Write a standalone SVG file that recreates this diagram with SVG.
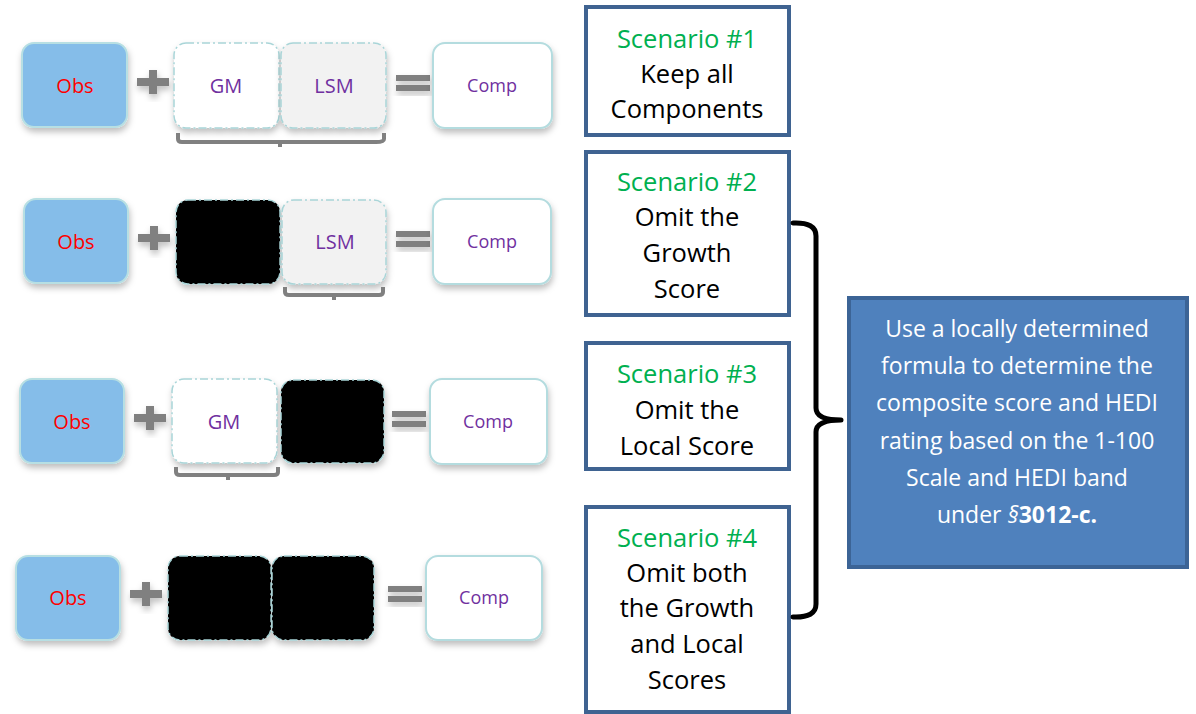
<svg xmlns="http://www.w3.org/2000/svg" width="1196" height="714" viewBox="0 0 1196 714">
<defs>
<filter id="sh" x="-20%" y="-20%" width="140%" height="150%">
<feDropShadow dx="1" dy="4" stdDeviation="3" flood-color="#000" flood-opacity="0.25"/>
</filter>
<style>
.obs{fill:#85bde9;stroke:#b7dfe3;stroke-width:2}
.gm{fill:#ffffff;stroke:#a9d5d8;stroke-width:1.5;stroke-dasharray:8 3 2 3}
.lsm{fill:#f2f2f2;stroke:#a9d5d8;stroke-width:1.5;stroke-dasharray:8 3 2 3}
.blk{fill:#000;stroke:#a9d5d8;stroke-width:1.5;stroke-dasharray:8 3 2 3}
.comp{fill:#fff;stroke:#b4dcdf;stroke-width:2}
.op{fill:#808080}
.br{fill:none;stroke:#808080;stroke-width:4;stroke-linejoin:round}
.t{font-family:"Open Sans","Noto Sans",sans-serif;text-anchor:middle}
.ro{fill:#ff0000;font-size:20px}
.pu{fill:#7030a0;font-size:20px}
.pc{fill:#7030a0;font-size:18px}
.sc{fill:#fff;stroke:#3f6391;stroke-width:4}
.st{font-family:"Open Sans","Noto Sans",sans-serif;text-anchor:middle;font-size:25.5px;fill:#000}
.g{fill:#00b050}
.bt{font-family:"Open Sans","Noto Sans",sans-serif;text-anchor:middle;font-size:23px;fill:#fff}
</style>
</defs>

<!-- Row 1 -->
<g id="row1">
<rect class="obs" x="22" y="43" width="105" height="84" rx="12" filter="url(#sh)"/>
<text class="t ro" x="75" y="93">Obs</text>
<g filter="url(#sh)"><rect class="op" x="137" y="78" width="32" height="8"/><rect class="op" x="149" y="70" width="8" height="24"/></g>
<rect class="gm" x="174" y="43" width="105" height="85" rx="12" filter="url(#sh)"/>
<text class="t pu" x="226" y="93">GM</text>
<rect class="lsm" x="281" y="43" width="105" height="85" rx="12" filter="url(#sh)"/>
<text class="t pu" x="334" y="93">LSM</text>
<g filter="url(#sh)"><rect class="op" x="396" y="75" width="34" height="6"/><rect class="op" x="396" y="85" width="34" height="6"/></g>
<rect class="comp" x="433" y="43" width="119" height="85" rx="12" filter="url(#sh)"/>
<text class="t pc" x="492" y="92">Comp</text>
<path class="br" d="M178,133 L178,139 Q178,142 182,142 L376,142 Q384,142 384,139 L384,133 M280,142 L280,147"/>
</g>

<!-- Row 2 -->
<g id="row2">
<rect class="obs" x="24" y="199" width="104" height="84" rx="12" filter="url(#sh)"/>
<text class="t ro" x="76" y="249">Obs</text>
<g filter="url(#sh)"><rect class="op" x="138" y="234" width="32" height="8"/><rect class="op" x="150" y="226" width="8" height="24"/></g>
<rect class="blk" x="176" y="200" width="104" height="84" rx="12" filter="url(#sh)"/>
<rect class="lsm" x="282" y="200" width="104" height="84" rx="12" filter="url(#sh)"/>
<text class="t pu" x="335" y="249">LSM</text>
<g filter="url(#sh)"><rect class="op" x="396" y="231" width="34" height="6"/><rect class="op" x="396" y="241" width="34" height="6"/></g>
<rect class="comp" x="433" y="199" width="118" height="85" rx="12" filter="url(#sh)"/>
<text class="t pc" x="492" y="248">Comp</text>
<path class="br" d="M285,287 L285,292 Q285,295 289,295 L379,295 Q383,295 383,292 L383,287 M334,295 L334,300"/>
</g>

<!-- Row 3 -->
<g id="row3">
<rect class="obs" x="20" y="379" width="104" height="84" rx="12" filter="url(#sh)"/>
<text class="t ro" x="72" y="429">Obs</text>
<g filter="url(#sh)"><rect class="op" x="134" y="414" width="32" height="8"/><rect class="op" x="146" y="406" width="8" height="24"/></g>
<rect class="gm" x="172" y="379" width="105" height="84" rx="12" filter="url(#sh)"/>
<text class="t pu" x="224" y="429">GM</text>
<rect class="blk" x="281" y="380" width="103" height="83" rx="12" filter="url(#sh)"/>
<g filter="url(#sh)"><rect class="op" x="392" y="411" width="34" height="6"/><rect class="op" x="392" y="421" width="34" height="6"/></g>
<rect class="comp" x="430" y="379" width="117" height="85" rx="12" filter="url(#sh)"/>
<text class="t pc" x="488" y="428">Comp</text>
<path class="br" d="M176,467 L176,472 Q176,475 180,475 L274,475 Q278,475 278,472 L278,467 M228,475 L228,480"/>
</g>

<!-- Row 4 -->
<g id="row4">
<rect class="obs" x="16" y="556" width="104" height="84" rx="12" filter="url(#sh)"/>
<text class="t ro" x="68" y="605">Obs</text>
<g filter="url(#sh)"><rect class="op" x="130" y="590" width="32" height="8"/><rect class="op" x="142" y="582" width="8" height="24"/></g>
<rect class="blk" x="168" y="556" width="103" height="84" rx="12" filter="url(#sh)"/>
<rect class="blk" x="272" y="556" width="102" height="84" rx="12" filter="url(#sh)"/>
<g filter="url(#sh)"><rect class="op" x="388" y="586" width="34" height="6"/><rect class="op" x="388" y="596" width="34" height="6"/></g>
<rect class="comp" x="426" y="556" width="116" height="84" rx="12" filter="url(#sh)"/>
<text class="t pc" x="484" y="604">Comp</text>
</g>

<!-- Scenario boxes -->
<g id="scenario1">
<rect class="sc" x="586" y="7" width="203" height="128"/>
<text class="st" x="687" y="48"><tspan class="g">Scenario #1</tspan></text>
<text class="st" x="687" y="83">Keep all</text>
<text class="st" x="687" y="118">Components</text>
</g>
<g id="scenario2">
<rect class="sc" x="586" y="152" width="203" height="163"/>
<text class="st" x="687" y="191"><tspan class="g">Scenario #2</tspan></text>
<text class="st" x="687" y="226">Omit the</text>
<text class="st" x="687" y="262">Growth</text>
<text class="st" x="687" y="298">Score</text>
</g>
<g id="scenario3">
<rect class="sc" x="586" y="343" width="203" height="126"/>
<text class="st" x="687" y="383"><tspan class="g">Scenario #3</tspan></text>
<text class="st" x="687" y="419">Omit the</text>
<text class="st" x="687" y="455">Local Score</text>
</g>
<g id="scenario4">
<rect class="sc" x="586" y="507" width="203" height="205"/>
<text class="st" x="687" y="547"><tspan class="g">Scenario #4</tspan></text>
<text class="st" x="687" y="582">Omit both</text>
<text class="st" x="687" y="617">the Growth</text>
<text class="st" x="687" y="653">and Local</text>
<text class="st" x="687" y="689">Scores</text>
</g>

<!-- Result box -->
<g id="result">
<rect x="849" y="298" width="338" height="269" fill="#4f81bd" stroke="#3c6496" stroke-width="4"/>
<text class="bt" x="1017" y="337">Use a locally determined</text>
<text class="bt" x="1017" y="374">formula to determine the</text>
<text class="bt" x="1017" y="411">composite score and HEDI</text>
<text class="bt" x="1017" y="449">rating based on the 1-100</text>
<text class="bt" x="1017" y="486">Scale and HEDI band</text>
<text class="bt" x="1017" y="523">under <tspan font-style="italic">§</tspan><tspan font-weight="bold">3012-c.</tspan></text>
</g>

<!-- Connectors -->
<g id="connectors">
<path d="M793,223 Q816,222 816,236 L816,408 Q816,420 841,420 Q816,420 816,432 L816,604 Q816,618 793,617" fill="none" stroke="#000" stroke-width="5" stroke-linejoin="round" stroke-linecap="round"/>
</g>
</svg>
